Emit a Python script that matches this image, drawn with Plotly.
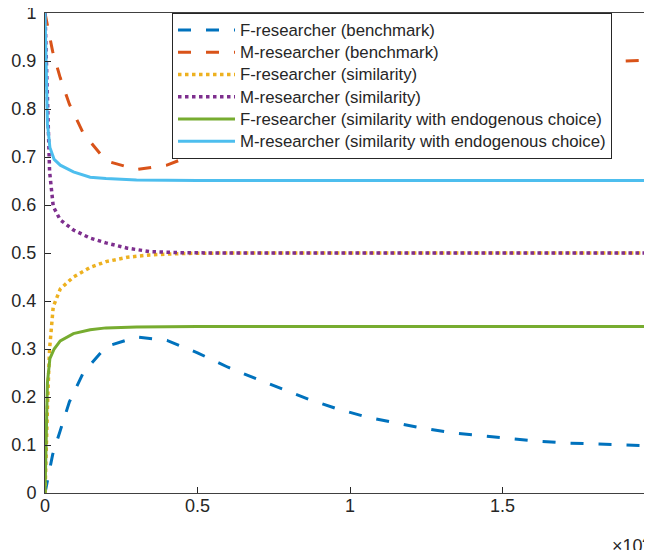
import plotly.graph_objects as go

# ---- data (time in raw units, x axis shown in units of 10^4) ----
t_bench = [0, 120, 250, 500, 800, 1250, 2000, 3000, 4000, 5000, 6000, 7000, 8000,
           8700, 9600, 10500, 11500, 12400, 13400, 14300, 15300, 16200, 17100,
           18100, 19000, 20000]
f_bench = [0, 0.04, 0.08, 0.13, 0.19, 0.25, 0.305, 0.325, 0.318, 0.292, 0.262,
           0.236, 0.211, 0.194, 0.175, 0.159, 0.146, 0.135, 0.125, 0.119, 0.113,
           0.108, 0.104, 0.102, 0.100, 0.098]
m_bench = [1, 0.96, 0.92, 0.865, 0.81, 0.75, 0.692, 0.674, 0.683, 0.708, 0.738,
           0.764, 0.789, 0.806, 0.825, 0.841, 0.854, 0.865, 0.875, 0.881, 0.887,
           0.892, 0.896, 0.898, 0.900, 0.902]

t_sim = [0, 40, 90, 150, 270, 500, 930, 1480, 2000, 2700, 3440, 4500, 6000, 20000]
f_sim = [0, 0.10, 0.20, 0.30, 0.388, 0.425, 0.450, 0.470, 0.482, 0.491, 0.496,
         0.499, 0.500, 0.500]
m_sim = [1, 0.90, 0.79, 0.67, 0.597, 0.569, 0.548, 0.531, 0.521, 0.510, 0.503,
         0.5005, 0.500, 0.500]

t_endo = [0, 30, 80, 160, 300, 500, 930, 1480, 2000, 3000, 5000, 20000]
f_endo = [0, 0.12, 0.23, 0.28, 0.300, 0.317, 0.332, 0.340, 0.344, 0.346, 0.347, 0.347]
m_endo = [1, 0.88, 0.77, 0.72, 0.695, 0.683, 0.669, 0.658, 0.655, 0.652, 0.651, 0.651]

names = ["F-researcher (benchmark)", "M-researcher (benchmark)",
         "F-researcher (similarity)", "M-researcher (similarity)",
         "F-researcher (similarity with endogenous choice)",
         "M-researcher (similarity with endogenous choice)"]

x_tickvals = [0, 5000, 10000, 15000, 20000]
x_ticktext = ["0", "0.5", "1", "1.5", "2"]
y_tickvals = [0, 0.1, 0.2, 0.3, 0.4, 0.5, 0.6, 0.7, 0.8, 0.9, 1.0]
y_ticktext = ["0", "0.1", "0.2", "0.3", "0.4", "0.5", "0.6", "0.7", "0.8", "0.9", "1"]

# MATLAB default colour order
C_BLUE, C_ORANGE, C_YELLOW = "#0072BD", "#D95319", "#EDB120"
C_PURPLE, C_GREEN, C_CYAN = "#7E2F8E", "#77AC30", "#4DBEEE"

FONT = "Liberation Sans, Arial, Helvetica, sans-serif"
TXT = "#262626"

fig = go.Figure()
dash_b = "13px,15px"
dot_s = "3.5px,3.5px"
specs = [
    (t_bench, f_bench, C_BLUE, dash_b, 3),
    (t_bench, m_bench, C_ORANGE, dash_b, 3),
    (t_sim, f_sim, C_YELLOW, dot_s, 3.5),
    (t_sim, m_sim, C_PURPLE, dot_s, 3.5),
    (t_endo, f_endo, C_GREEN, "solid", 3),
    (t_endo, m_endo, C_CYAN, "solid", 3),
]
for (xs, ys, col, dash, w), nm in zip(specs, names):
    fig.add_trace(go.Scatter(x=xs, y=ys, mode="lines",
                             name='<span style="font-size:16.8px">' + nm + '</span>',
                             line=dict(color=col, dash=dash, width=w),
                             cliponaxis=True))

# page body has an 8px margin; plot area spans window px 45..655 x 13..493
fig.update_layout(
    width=652, height=550,
    margin=dict(l=37, r=5, t=5, b=65),
    paper_bgcolor="white", plot_bgcolor="white",
    font=dict(family=FONT, size=18, color=TXT),
    showlegend=True,
    legend=dict(x=(164 - 37) / 610.0, y=1.0, xanchor="left", yanchor="top",
                bgcolor="white", bordercolor=TXT, borderwidth=1,
                font=dict(family=FONT, size=14.8, color=TXT),
                itemwidth=57, tracegroupgap=0),
    xaxis=dict(range=[0, 20000], tickvals=x_tickvals, ticktext=x_ticktext,
               ticks="inside", ticklen=6, tickcolor=TXT, automargin=False,
               ticklabeloverflow="allow", ticklabelstandoff=-4,
               showline=True, linecolor="#404040", linewidth=1, mirror="ticks",
               showgrid=False, zeroline=False,
               tickfont=dict(family=FONT, size=18, color=TXT)),
    yaxis=dict(range=[0, 1], tickvals=y_tickvals, ticktext=y_ticktext,
               ticks="inside", ticklen=6, tickcolor=TXT, automargin=False,
               ticklabeloverflow="allow",
               showline=True, linecolor="#404040", linewidth=1, mirror="ticks",
               showgrid=False, zeroline=False, ticklabelstandoff=4,
               tickfont=dict(family=FONT, size=18, color=TXT)),
)

fig.add_annotation(x=(602 - 37) / 610.0, xref="paper", y=-0.108, yref="paper",
                   text="×10<sup>4</sup>", showarrow=False,
                   xanchor="left", yanchor="middle",
                   font=dict(family=FONT, size=18, color=TXT))

fig.write_html("out.html")
